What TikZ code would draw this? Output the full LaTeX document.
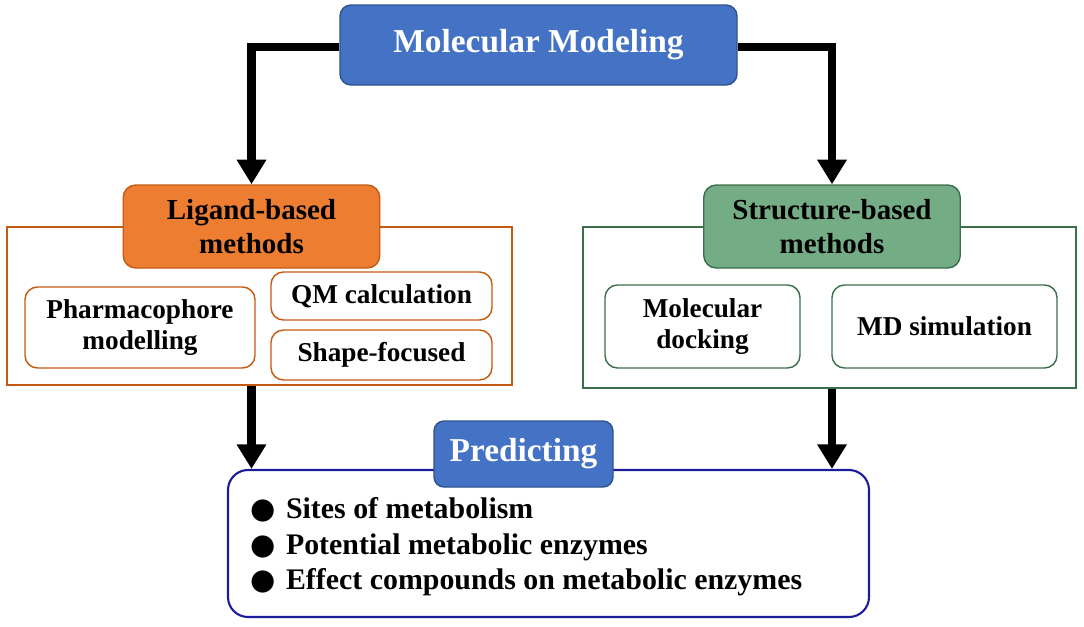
\documentclass[tikz,border=0pt]{standalone}
\usepackage{fontspec}
\setmainfont{Liberation Serif}
\newfontfamily\symfont{DejaVu Sans}
\usetikzlibrary{arrows.meta}
\definecolor{mblue}{HTML}{4472C4}
\definecolor{mblueline}{HTML}{2F528F}
\definecolor{morange}{HTML}{ED7D31}
\definecolor{morangeline}{HTML}{C55A11}
\definecolor{mgreen}{HTML}{74AC86}
\definecolor{mgreenline}{HTML}{3B6E4A}
\definecolor{mnavy}{HTML}{1C1C9A}
\begin{document}
\begin{tikzpicture}
        \tikzstyle{title}=[rectangle,rounded corners=0.22cm,draw=mblueline,fill=mblue,line width=0.8pt,text=white,font=\bfseries\fontsize{19}{23}\selectfont]
        \tikzstyle{header}=[rectangle,rounded corners=0.25cm,line width=0.8pt,align=center,minimum width=5.13cm,minimum height=1.66cm,font=\bfseries\fontsize{16.5}{19.5}\selectfont]
        \tikzstyle{panel}=[rectangle,line width=0.9pt]
        \tikzstyle{method}=[rectangle,rounded corners=0.25cm,fill=white,line width=0.8pt,align=center,font=\bfseries\fontsize{15.5}{18}\selectfont]
        \tikzstyle{flow}=[line width=5pt,-{Triangle[width=16pt,length=14pt]}]
        \useasboundingbox (0,0) rectangle (21.68,-12.52);
        % top
        \node [title,minimum width=7.94cm,minimum height=1.6cm] (model) at (10.77,-0.9) {Molecular Modeling};
        % ligand-based side
        \node [panel,draw=morangeline,minimum width=10.1cm,minimum height=3.16cm] (lpanel) at (5.19,-6.12) {};
        \node [header,draw=morangeline,fill=morange] (ligand) at (5.03,-4.53) {Ligand-based\\methods};
        \node [method,draw=morangeline,minimum width=4.6cm,minimum height=1.62cm] (pharm) at (2.8,-6.55) {Pharmacophore\\modelling};
        \node [method,draw=morangeline,minimum width=4.42cm,minimum height=0.96cm] (qm) at (7.63,-5.92) {QM calculation};
        \node [method,draw=morangeline,minimum width=4.42cm,minimum height=1.0cm] (shape) at (7.63,-7.1) {Shape-focused};
        % structure-based side
        \node [panel,draw=mgreenline,minimum width=9.86cm,minimum height=3.22cm] (rpanel) at (16.59,-6.15) {};
        \node [header,draw=mgreenline,fill=mgreen] (struct) at (16.64,-4.53) {Structure-based\\methods};
        \node [method,draw=mgreenline,minimum width=3.9cm,minimum height=1.66cm] (dock) at (14.05,-6.53) {Molecular\\docking};
        \node [method,draw=mgreenline,minimum width=4.5cm,minimum height=1.66cm] (md) at (18.89,-6.53) {MD simulation};
        % predicting
        \node [method,draw=mnavy,line width=1.2pt,rounded corners=0.4cm,minimum width=12.82cm,minimum height=2.94cm] (result) at (10.97,-10.87) {};
        \node [title,minimum width=3.58cm,minimum height=1.32cm,rounded corners=0.2cm] (predict) at (10.47,-9.08) {Predicting};
        \node [anchor=west,align=left,font=\bfseries\fontsize{17}{20.3}\selectfont] (list) at (4.88,-10.94)
          {{\symfont\fontsize{16.5}{20.3}\selectfont ●}\hspace{6pt}Sites of metabolism\\
           {\symfont\fontsize{16.5}{20.3}\selectfont ●}\hspace{6pt}Potential metabolic enzymes\\
           {\symfont\fontsize{16.5}{20.3}\selectfont ●}\hspace{6pt}Effect compounds on metabolic enzymes};
        % arrows
        \draw [flow] ([yshift=-0.04cm]model.west) -| (ligand.north);
        \draw [flow] ([yshift=-0.04cm]model.east) -| (struct.north);
        \draw [flow] (lpanel.south -| ligand.north) -- (result.north -| ligand.north);
        \draw [flow] (rpanel.south -| struct.north) -- (result.north -| struct.north);
      \end{tikzpicture}
\end{document}
